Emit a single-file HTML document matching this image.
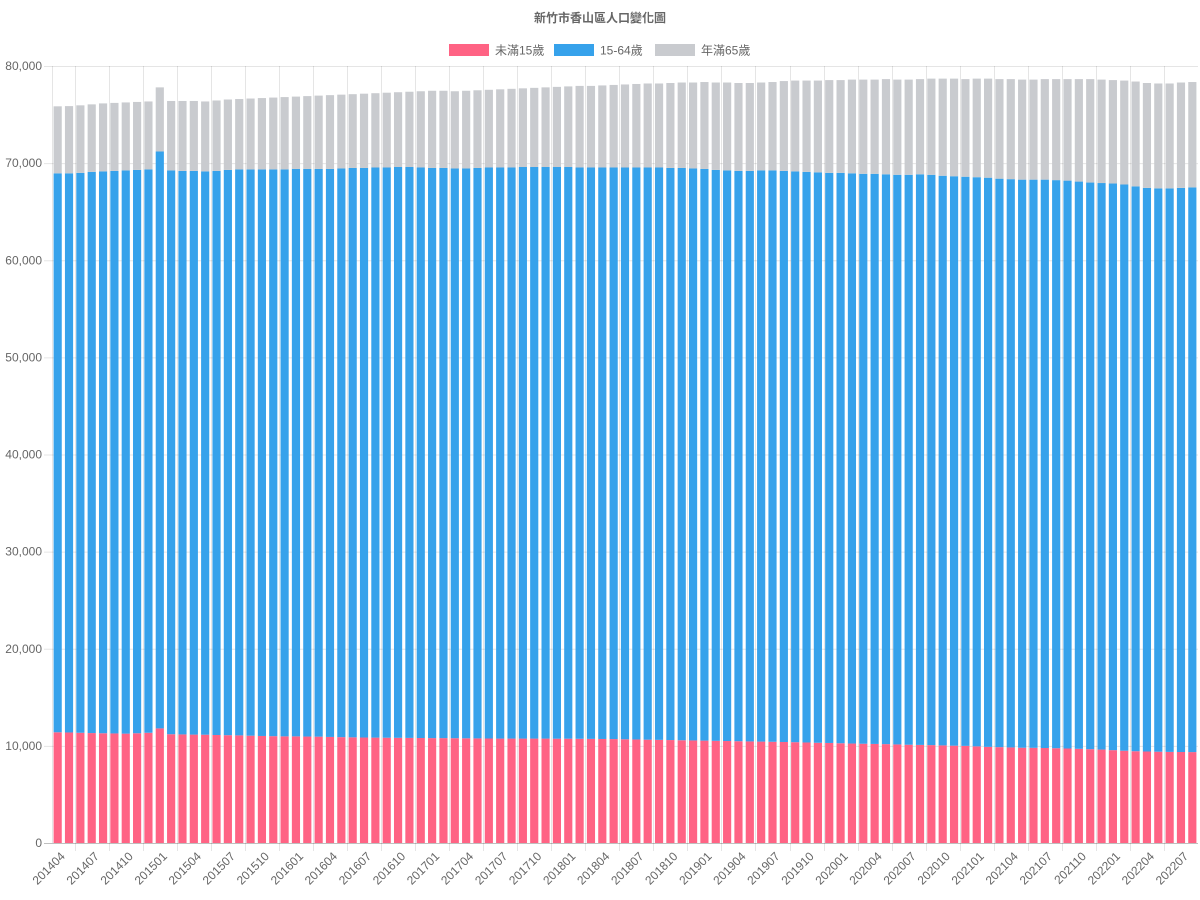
<!DOCTYPE html>
<html><head><meta charset="utf-8"><style>
html,body{margin:0;padding:0;background:#fff;}
svg{display:block;font-family:"Liberation Sans","Noto Sans CJK TC",sans-serif;}
</style></head><body>
<svg id="chart" width="1200" height="900" viewBox="0 0 1200 900">
<text x="600" y="22" text-anchor="middle" font-size="12" font-weight="bold" fill="#666">新竹市香山區人口變化圖</text>
<g>
<g><rect x="449" y="44" width="40" height="12" fill="#ff6384"/><text x="495" y="54.5" font-size="12" fill="#666">未滿15歲</text></g>
<g><rect x="554" y="44" width="40" height="12" fill="#36a2eb"/><text x="600" y="54.5" font-size="12" fill="#666">15-64歲</text></g>
<g><rect x="655" y="44" width="40" height="12" fill="#c9cbcf"/><text x="701" y="54.5" font-size="12" fill="#666">年滿65歲</text></g>
</g>
<g id="grid"></g><g id="bars"></g><g id="axes"></g>
</svg>
<script>
const under15=[11400,11380,11350,11320,11300,11280,11260,11300,11350,11800,
11200,11180,11160,11150,11120,11100,11080,11050,11020,11000,10980,
10980,10960,10950,10920,10900,10880,10860,10850,10840,10830,10820,10810,
10800,10800,10790,10780,10770,10760,10750,10750,10750,10750,10750,10740,
10740,10730,10720,10710,10700,10680,10660,10640,10620,10600,10580,10560,
10540,10520,10500,10480,10460,10440,10420,10400,10380,10350,10320,10300,
10270,10240,10220,10200,10180,10150,10120,10100,10080,10050,10020,10000,
9950,9900,9870,9840,9810,9800,9780,9760,9730,9700,9660,9620,
9560,9500,9450,9420,9400,9380,9370,9360];
const stackTop15to64=[68950,68950,69000,69100,69150,69200,69250,69300,69350,71200,
69250,69200,69200,69150,69200,69300,69350,69350,69350,69350,69350,
69400,69400,69400,69400,69450,69500,69500,69550,69550,69600,69600,69550,
69500,69500,69450,69450,69500,69550,69550,69550,69600,69600,69600,69600,
69600,69550,69550,69550,69550,69550,69550,69550,69550,69500,69500,69450,
69400,69300,69250,69200,69200,69250,69250,69200,69150,69100,69050,69000,
69000,68950,68900,68900,68850,68800,68800,68850,68800,68700,68650,68600,
68550,68500,68400,68350,68300,68300,68300,68250,68200,68100,68000,67950,
67900,67800,67600,67450,67400,67400,67450,67500];
const totalPop=[75850,75870,75950,76050,76150,76200,76250,76300,76350,77800,
76400,76400,76400,76350,76450,76550,76600,76650,76700,76750,76800,
76850,76900,76950,77000,77050,77100,77150,77200,77250,77300,77350,77400,
77450,77450,77400,77450,77500,77550,77600,77650,77700,77750,77800,77850,
77900,77950,77950,78000,78050,78100,78150,78200,78200,78250,78300,78300,
78350,78300,78300,78250,78250,78300,78350,78450,78500,78500,78500,78550,
78550,78600,78600,78600,78650,78600,78600,78650,78700,78700,78700,78650,
78700,78700,78650,78650,78600,78600,78650,78650,78650,78650,78650,78600,
78550,78500,78400,78250,78200,78200,78300,78350];
const yTicks=[0,10000,20000,30000,40000,50000,60000,70000,80000];
const categories=[];
for(let y=2014,m=4;categories.length<under15.length;){categories.push(''+y+(m<10?'0':'')+m);m++;if(m>12){m=1;y++;}}
const NS='http://www.w3.org/2000/svg';
const L=52,R=1198,T=66,B=843,YMAX=80000;
const n=categories.length,step=(R-L)/n;
const yS=v=>B-(v/YMAX)*(B-T);
const xS=i=>L+step*(i+0.5);
function mk(tag,attrs,parent){const e=document.createElementNS(NS,tag);for(const k in attrs)e.setAttribute(k,attrs[k]);parent.appendChild(e);return e;}
const grid=document.getElementById('grid'),bars=document.getElementById('bars'),axes=document.getElementById('axes');
yTicks.forEach(v=>{
 const ln=mk('line',{x1:L-8,x2:R,y1:yS(v)+0.5,y2:yS(v)+0.5,stroke:v===0?'rgba(0,0,0,0.25)':'rgba(0,0,0,0.1)','stroke-width':1},grid);
 
 
 const t=mk('text',{x:L-10,y:yS(v)+4,'text-anchor':'end','font-size':12,fill:'#666'},axes);
 t.textContent=v.toLocaleString('en-US');
 
 
});
const gl0=mk('line',{x1:L+0.5,x2:L+0.5,y1:T,y2:B,stroke:'rgba(0,0,0,0.1)','stroke-width':1},grid);


for(let i=0;i<n;i+=3){
 if(i+2<n){
  const gx=Math.round(L+step*(i+2))+0.5;
  const gl=mk('line',{x1:gx,x2:gx,y1:T,y2:B+8,stroke:'rgba(0,0,0,0.1)','stroke-width':1},grid);
  
  
 }
 const cx=xS(i)+8,cy=B+14;
 const t=mk('text',{x:cx,y:cy,'text-anchor':'end','font-size':12,fill:'#666',transform:`rotate(-45 ${cx} ${cy})`},axes);
 t.textContent=categories[i];
 
 
}
const bw=step*0.72;
const cols=['#ff6384','#36a2eb','#c9cbcf'];
for(let i=0;i<n;i++){
 const segs=[[0,under15[i]],[under15[i],stackTop15to64[i]],[stackTop15to64[i],totalPop[i]]];
 const names=['bar-under15','bar-15-64','bar-over65'];
 segs.forEach((s,k)=>{
  const r=mk('rect',{x:xS(i)-bw/2,y:yS(s[1]),width:bw,height:yS(s[0])-yS(s[1]),fill:cols[k]},bars);
  
  
 });
}
</script>
</body></html>
